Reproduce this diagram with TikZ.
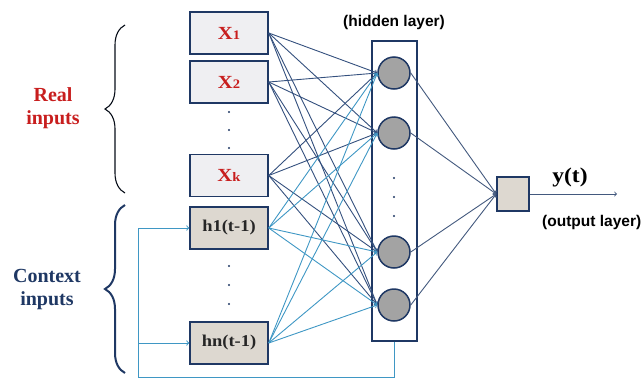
\documentclass[tikz,border=0pt]{standalone}
\usepackage{fontspec}
\setmainfont{Liberation Serif}
\newfontfamily\labelsans{Liberation Sans}
\newfontfamily\wideserif[FakeStretch=1.12]{Liberation Serif}
\usepackage{xcolor}
\usepackage{tikz}
\usetikzlibrary{decorations.pathreplacing}

\definecolor{navy}{HTML}{1F3864}
\definecolor{slate}{HTML}{34507E}
\definecolor{skyline}{HTML}{3F97C4}
\definecolor{realred}{HTML}{C81E1E}
\definecolor{xfill}{HTML}{EFEFF2}
\definecolor{hfill}{HTML}{DDD8D0}
\definecolor{unitgray}{HTML}{A3A3A3}

\begin{document}
\begin{tikzpicture}[x=1pt, y=-1pt,
    inbox/.style={rectangle, draw=navy, line width=1.5pt, fill=xfill, minimum width=78pt, minimum height=42pt},
    ctxbox/.style={inbox, fill=hfill, font=\wideserif\bfseries\fontsize{16.5}{16.5}\selectfont, text=black!85},
    unit/.style={circle, draw=navy, line width=1.5pt, fill=unitgray, minimum size=32pt, inner sep=0pt},
    xline/.style={draw=slate, line width=0.9pt, ->},
    hline/.style={draw=skyline, line width=0.9pt, ->},
    oline/.style={draw=slate!80!gray, line width=0.9pt, ->},
    fb/.style={draw=skyline, line width=1pt}]
    \useasboundingbox (0,0) rectangle (642,378);

    % input boxes
    \newcommand{\xlab}[1]{\textcolor{realred}{\wideserif\bfseries\fontsize{18.5}{18.5}\selectfont X\fontsize{13}{13}\selectfont #1}}
    \node[inbox] (x1) at (229,33) {\xlab{1}};
    \node[inbox] (x2) at (229,82) {\xlab{2}};
    \node[inbox] (xk) at (229,175.5) {\xlab{k}};
    \node[ctxbox] (h1) at (229,228) {h1(t-1)};
    \node[ctxbox] (hn) at (229,343) {hn(t-1)};
    \foreach \y in {112,130,148,266,285,304}
        \fill[navy] (229,\y) circle (1.1pt);

    % hidden layer
    \node[rectangle, draw=navy, line width=1.5pt, fill=white, minimum width=45pt, minimum height=300pt] (hid) at (394.5,191) {};
    \node[unit] (n1) at (394,73) {};
    \node[unit] (n2) at (394,133) {};
    \node[unit] (n3) at (394,252) {};
    \node[unit] (n4) at (394,305) {};
    \foreach \y in {178,197,216}
        \fill[navy] (394,\y) circle (1.1pt);
    \node[font=\labelsans\bfseries\fontsize{15.5}{15.5}\selectfont] (hidlab) at (394,22) {(hidden layer)};

    % output layer
    \node[rectangle, draw=navy, line width=1.5pt, fill=hfill, minimum width=32pt, minimum height=34pt] (out) at (513,194) {};
    \coordinate (yend) at (617,194);
    \node[font=\wideserif\bfseries\fontsize{21}{21}\selectfont] (ylab) at (570,177) {y(t)};
    \node[font=\labelsans\bfseries\fontsize{15.5}{15.5}\selectfont, anchor=west, inner sep=0pt] (outlab) at (542,222) {(output layer)};

    % connections
    \foreach \i in {x1,x2,xk}
        \foreach \j in {n1,n2,n3,n4}
            \draw[xline] (\i.east) -- (\j.west);
    \foreach \i in {h1,hn}
        \foreach \j in {n1,n2,n3,n4}
            \draw[hline] (\i.east) -- (\j.west);
    \foreach \j in {n1,n2,n3,n4}
        \draw[oline] (\j.east) -- (out.west);
    \draw[oline] (out.east) -- (yend);

    % context feedback
    \coordinate (fbl) at (138,377);
    \draw[fb, ->] (hid.south) |- (fbl) |- (h1.west);
    \draw[fb, ->] (fbl |- hn.west) -- (hn.west);

    % braces
    \draw[draw=black!75!navy, line width=1.1pt, decorate, decoration={brace, amplitude=20pt}]
        (125,193) -- (125,25);
    \draw[draw=navy, line width=2pt, decorate, decoration={brace, amplitude=20pt}]
        (125,373) -- (125,205);
    \node[text=realred, font=\bfseries\fontsize{20}{23}\selectfont, align=center] (reallab) at (53,108) {Real\\inputs};
    \node[text=navy, font=\bfseries\fontsize{20}{23}\selectfont, align=center] (ctxlab) at (47,290) {Context\\inputs};
\end{tikzpicture}
\end{document}
